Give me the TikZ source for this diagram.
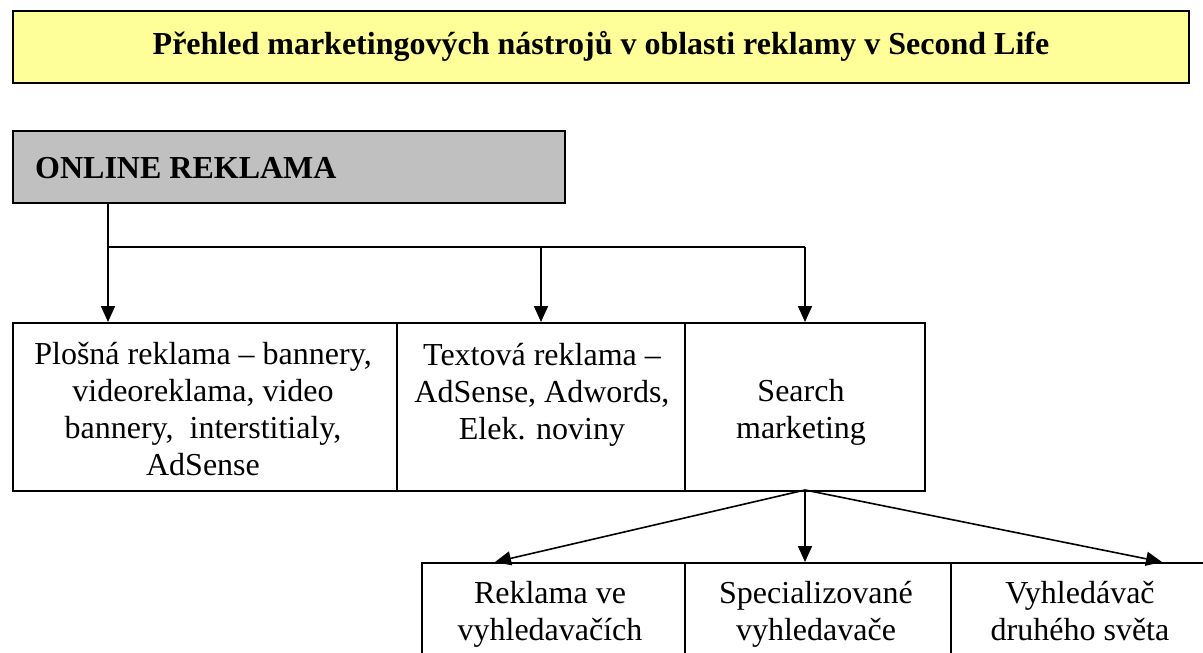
\documentclass[tikz,border=0pt]{standalone}
\usepackage{fontspec}
\setmainfont{Liberation Serif}
\usetikzlibrary{arrows.meta}
\definecolor{titleyellow}{HTML}{FFFF99}
\definecolor{boxgray}{HTML}{C0C0C0}
\tikzset{
  box/.style={draw=black, line width=1.6pt, anchor=north west, inner sep=0pt},
  txt/.style={align=center, inner sep=0pt, font=\fontsize{32}{37}\selectfont},
  btxt/.style={inner sep=0pt, font=\fontsize{32}{37}\selectfont\bfseries},
  conn/.style={draw=black, line width=1.6pt},
  arr/.style={conn, -{Triangle[length=16pt,width=14pt]}}
}
\begin{document}
\begin{tikzpicture}[x=1pt,y=1pt]
\useasboundingbox (0,0) rectangle (1203,-653);
\clip (0,0) rectangle (1203,-653);
% title
\node[box, fill=titleyellow, minimum width=1176pt, minimum height=72pt] (title) at (12,-10) {};
\node[btxt] (titletext) at (601,-46) {Přehled marketingových nástrojů v oblasti reklamy v Second Life};
% online reklama
\node[box, fill=boxgray, minimum width=552pt, minimum height=72pt] (online) at (12,-130) {};
\node[btxt, anchor=west] (onlinetext) at (35,-168) {ONLINE REKLAMA};
% row 1
\node[box, minimum width=384pt, minimum height=168pt] (b1) at (12,-322) {};
\node[box, minimum width=288pt, minimum height=168pt] (b2) at (396,-322) {};
\node[box, minimum width=240pt, minimum height=168pt] (b3) at (684,-322) {};
\node[txt] (t1) at (203,-413) {\strut Plošná reklama – bannery,\\\strut videoreklama, video\\\strut bannery,\ \ interstitialy,\\\strut AdSense};
\node[txt] (t2) at (542,-395) {\strut Textová reklama –\\\strut AdSense, Adwords,\\\strut Elek. noviny};
\node[txt] (t3) at (801,-413) {\strut Search\\\strut marketing};
% row 2
\node[box, minimum width=263pt, minimum height=120pt] (c1) at (421,-562) {};
\node[box, minimum width=266pt, minimum height=120pt] (c2) at (684,-562) {};
\node[box, minimum width=280pt, minimum height=120pt] (c3) at (950,-562) {};
\node[txt] (u1) at (550,-615) {\strut Reklama ve\\\strut vyhledavačích};
\node[txt] (u2) at (816,-615) {\strut Specializované\\\strut vyhledavače};
\node[txt] (u3) at (1080,-615) {\strut Vyhledávač\\\strut druhého světa};
% connectors
\coordinate (j1) at ([xshift=96pt]online.south west);
\coordinate (hl) at (108,-247);
\coordinate (hr) at (805,-247);
\draw[arr] (j1) -- (j1 |- b1.north);
\draw[conn] (hl) -- (hr);
\draw[arr] (541,-247) coordinate (h2) -- (h2 |- b2.north);
\draw[arr] (hr) -- (hr |- b3.north);
\coordinate (sm) at (805,-490);
\draw[arr] (sm) -- (495,-562) coordinate (e1);
\draw[arr] (sm) -- (sm |- c2.north);
\draw[arr] (sm) -- (1162,-562) coordinate (e3);
\end{tikzpicture}
\end{document}
